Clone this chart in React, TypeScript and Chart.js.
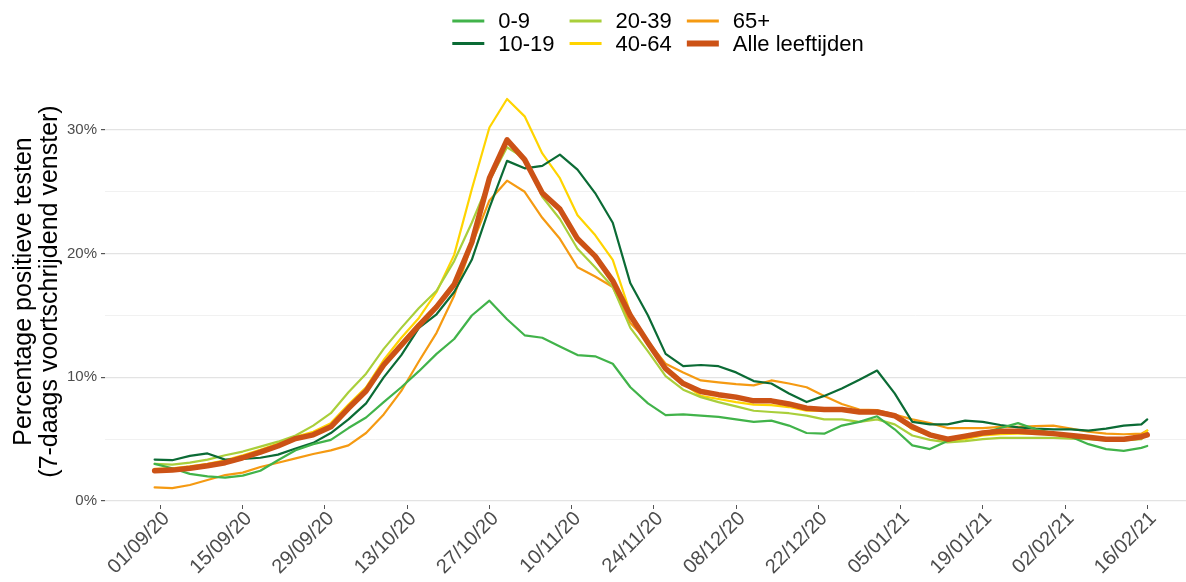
import React, { useEffect, useRef } from 'react';
import { Chart, registerables } from 'chart.js';

Chart.register(...registerables);

// Days since 01/09/2020
const days = [-1, 2, 5, 8, 11, 14, 17, 20, 23, 26, 29, 32, 35, 38, 41, 44, 47, 50, 53, 56, 59, 62, 65, 68, 71, 74, 77, 80, 83, 86, 89, 92, 95, 98, 101, 104, 107, 110, 113, 116, 119, 122, 125, 128, 131, 134, 137, 140, 143, 146, 149, 152, 155, 158, 161, 164, 167, 168];

const age0_9 = [3.0, 2.65, 2.2, 2.0, 1.9, 2.05, 2.45, 3.3, 4.1, 4.6, 4.95, 5.9, 6.75, 8.0, 9.2, 10.5, 11.9, 13.1, 15.0, 16.2, 14.7, 13.4, 13.2, 12.5, 11.8, 11.7, 11.1, 9.2, 7.9, 6.95, 7.0, 6.9, 6.8, 6.6, 6.4, 6.5, 6.1, 5.5, 5.45, 6.1, 6.4, 6.85, 5.8, 4.5, 4.2, 4.85, 5.2, 5.5, 5.9, 6.3, 5.8, 5.5, 5.2, 4.6, 4.2, 4.05, 4.3, 4.45];
const age10_19 = [3.35, 3.3, 3.65, 3.85, 3.35, 3.4, 3.5, 3.75, 4.25, 4.7, 5.5, 6.6, 7.9, 10.0, 11.8, 14.0, 15.1, 16.9, 19.5, 23.7, 27.5, 26.9, 27.1, 28.0, 26.8, 24.9, 22.5, 17.6, 15.0, 11.9, 10.9, 11.0, 10.9, 10.4, 9.7, 9.5, 8.7, 8.0, 8.5, 9.1, 9.8, 10.55, 8.7, 6.4, 6.2, 6.2, 6.5, 6.4, 6.15, 5.95, 5.85, 5.8, 5.8, 5.7, 5.85, 6.1, 6.2, 6.6];
const age20_39 = [3.0, 2.95, 3.1, 3.35, 3.7, 4.0, 4.4, 4.8, 5.3, 6.1, 7.1, 8.8, 10.3, 12.3, 14.0, 15.6, 17.0, 19.4, 22.5, 25.9, 28.6, 27.7, 24.6, 22.8, 20.4, 18.9, 17.3, 14.0, 12.1, 10.1, 9.0, 8.4, 8.0, 7.65, 7.3, 7.2, 7.1, 6.9, 6.6, 6.6, 6.4, 6.6, 6.2, 5.3, 4.95, 4.75, 4.85, 5.0, 5.1, 5.1, 5.1, 5.1, 5.05, 5.0, 4.9, 4.9, 5.0, 5.4];
const age40_64 = [2.6, 2.65, 2.8, 3.0, 3.3, 3.7, 4.15, 4.65, 5.2, 5.6, 6.3, 7.8, 9.2, 11.4, 13.2, 14.8, 16.9, 19.9, 25.2, 30.2, 32.5, 31.1, 28.1, 26.1, 23.1, 21.5, 19.5, 15.2, 12.9, 10.8, 9.5, 8.5, 8.25, 8.0, 7.8, 7.75, 7.6, 7.3, 7.3, 7.3, 7.2, 7.3, 6.9, 5.8, 5.3, 4.8, 5.0, 5.3, 5.4, 5.45, 5.45, 5.4, 5.3, 5.1, 4.95, 5.0, 5.3, 5.7];
const age65plus = [1.1, 1.05, 1.3, 1.7, 2.1, 2.3, 2.75, 3.1, 3.45, 3.8, 4.1, 4.5, 5.5, 7.0, 8.9, 11.3, 13.6, 16.6, 20.7, 24.3, 25.9, 25.0, 22.9, 21.2, 18.9, 18.15, 17.3, 14.4, 12.9, 11.1, 10.4, 9.75, 9.6, 9.45, 9.35, 9.75, 9.5, 9.2, 8.5, 7.85, 7.4, 7.35, 7.0, 6.6, 6.3, 5.9, 5.9, 5.9, 6.0, 6.0, 6.05, 6.1, 5.85, 5.6, 5.45, 5.4, 5.45, 5.7];
const allAges = [2.45, 2.5, 2.65, 2.85, 3.1, 3.5, 3.95, 4.45, 5.05, 5.35, 6.0, 7.5, 8.9, 11.0, 12.6, 14.2, 15.7, 17.5, 20.9, 26.1, 29.2, 27.6, 24.9, 23.6, 21.2, 19.8, 17.8, 15.0, 12.8, 10.7, 9.5, 8.85, 8.6, 8.4, 8.1, 8.1, 7.85, 7.5, 7.4, 7.4, 7.2, 7.2, 6.9, 6.0, 5.35, 5.0, 5.25, 5.5, 5.65, 5.65, 5.55, 5.45, 5.3, 5.15, 5.0, 5.0, 5.2, 5.35];

const seriesNames = ['0-9', '10-19', '20-39', '40-64', '65+', 'Alle leeftijden'];
const seriesValues = [age0_9, age10_19, age20_39, age40_64, age65plus, allAges];

const tickDays = [0, 14, 28, 42, 56, 70, 84, 98, 112, 126, 140, 154, 168];
const tickLabels = ['01/09/20', '15/09/20', '29/09/20', '13/10/20', '27/10/20', '10/11/20', '24/11/20', '08/12/20', '22/12/20', '05/01/21', '19/01/21', '02/02/21', '16/02/21'];
const yTickValues = [0, 5, 10, 15, 20, 25, 30];

const yTitle = ['Percentage positieve testen', '(7-daags voortschrijdend venster)'];

// styles
const seriesColors = ['#41b34a', '#0b6b35', '#a9cf3b', '#ffd400', '#f59a12', '#cc5216'];
const FONT = '"Liberation Sans", Arial, sans-serif';

const legendPlugin = {
  id: 'ggLegend',
  afterDraw(chart: any) {
    const ctx = chart.ctx as CanvasRenderingContext2D;
    const ds = chart.data.datasets;
    ctx.save();
    ctx.font = `22px ${FONT}`;
    ctx.textBaseline = 'middle';
    ctx.textAlign = 'left';
    const rows = 2;
    const cols = Math.ceil(ds.length / rows);
    const keyW = 32;
    const keyGap = 14;
    const colGap = 15;
    const colW: number[] = [];
    for (let c = 0; c < cols; c++) {
      let w = 0;
      for (let r = 0; r < rows; r++) {
        const d = ds[c * rows + r];
        if (d) w = Math.max(w, ctx.measureText(d.label).width);
      }
      colW.push(keyW + keyGap + w);
    }
    const total = colW.reduce((a, b) => a + b, 0) + colGap * (cols - 1);
    const centerX = 658;
    const rowY = [21, 43.5];
    let x = centerX - total / 2;
    for (let c = 0; c < cols; c++) {
      for (let r = 0; r < rows; r++) {
        const d = ds[c * rows + r];
        if (!d) continue;
        const y = rowY[r];
        ctx.strokeStyle = d.borderColor;
        ctx.lineWidth = d.borderWidth > 3 ? 6 : 3;
        ctx.lineCap = 'butt';
        ctx.beginPath();
        ctx.moveTo(x, y);
        ctx.lineTo(x + keyW, y);
        ctx.stroke();
        ctx.fillStyle = '#000';
        ctx.fillText(d.label, x + keyW + keyGap, y + 1);
      }
      x += colW[c] + colGap;
    }
    ctx.restore();
  },
};

export default function App() {
  const ref = useRef<HTMLCanvasElement>(null);

  useEffect(() => {
    const canvas = ref.current;
    if (!canvas) return;
    const datasets = seriesNames.map((name, i) => ({
      label: name,
      data: days.map((d, j) => ({ x: d, y: seriesValues[i][j] })),
      borderColor: seriesColors[i],
      backgroundColor: seriesColors[i],
      borderWidth: i === 5 ? 5.5 : 2.2,
      pointRadius: 0,
      tension: 0,
      fill: false,
      borderJoinStyle: 'round' as const,
      borderCapStyle: 'round' as const,
      order: i === 5 ? 0 : 1,
    }));

    const isMajor = (v: number) => Math.abs(v % 10) < 1e-6;

    const chart = new Chart(canvas, {
      type: 'line',
      data: { datasets },
      options: {
        animation: false,
        responsive: false,
        devicePixelRatio: 1,
        layout: { padding: { top: 78, left: 0, right: 0, bottom: 0 } },
        plugins: {
          legend: { display: false },
          tooltip: { enabled: false },
        },
        scales: {
          x: {
            type: 'linear',
            min: -9.45,
            max: 174.6,
            afterBuildTicks: (s: any) => {
              s.ticks = tickDays.map((v) => ({ value: v }));
            },
            afterFit: (s: any) => {
              s.height = 77;
            },
            grid: {
              drawOnChartArea: false,
              drawTicks: true,
              tickLength: 4,
              tickColor: '#555',
              tickWidth: 1,
            },
            border: { display: false },
            ticks: {
              autoSkip: false,
              maxRotation: 45,
              minRotation: 45,
              padding: -2,
              labelOffset: 6,
              color: '#4d4d4d',
              font: { family: FONT, size: 20 },
              callback: (v: any) => {
                const i = tickDays.indexOf(Number(v));
                return i >= 0 ? tickLabels[i] : '';
              },
            },
          },
          y: {
            type: 'linear',
            min: -0.32,
            max: 34.2,
            afterBuildTicks: (s: any) => {
              s.ticks = yTickValues.map((v) => ({ value: v }));
            },
            afterFit: (s: any) => {
              s.width = 105;
            },
            grid: {
              color: (c: any) => (isMajor(c.tick?.value ?? 0) ? '#e3e3e3' : '#efefef'),
              lineWidth: (c: any) => (isMajor(c.tick?.value ?? 0) ? 1.2 : 0.9),
              tickColor: (c: any) => (isMajor(c.tick?.value ?? 0) ? '#555' : 'rgba(0,0,0,0)'),
              tickLength: 4,
              drawTicks: true,
            },
            border: { display: false },
            ticks: {
              autoSkip: false,
              padding: 4,
              color: '#4d4d4d',
              font: { family: FONT, size: 15 },
              callback: (v: any) => (isMajor(Number(v)) ? `${v}%` : ''),
            },
            title: {
              display: true,
              text: yTitle,
              color: '#000',
              font: { family: FONT, size: 25, lineHeight: 1.04 },
              padding: { top: 11, bottom: 0 },
            },
          },
        },
      },
      plugins: [legendPlugin],
    } as any);

    return () => chart.destroy();
  }, []);

  return (
    <div style={{ position: 'absolute', left: 0, top: 0, width: 1186, height: 582, background: '#fff' }}>
      <canvas ref={ref} width={1186} height={582} style={{ display: 'block' }} />
    </div>
  );
}
